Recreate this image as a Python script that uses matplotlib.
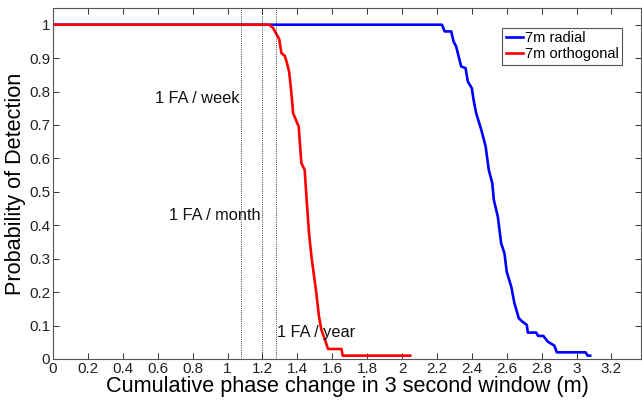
import numpy as np
import matplotlib.pyplot as plt

plt.rcParams['font.family'] = ['Liberation Sans', 'DejaVu Sans']

# detection curves (phase change in m, probability of detection)
radial_x = [0.0, 2.229, 2.244, 2.282, 2.295, 2.31, 2.339, 2.364, 2.377, 2.40, 2.41,
            2.425, 2.454, 2.479, 2.497, 2.517, 2.526, 2.549, 2.568, 2.587, 2.60,
            2.626, 2.644, 2.669, 2.689, 2.715, 2.721, 2.769, 2.78, 2.81, 2.835,
            2.873, 2.887, 3.051, 3.064, 3.078]
radial_y = [1.0, 1.0, 0.98, 0.98, 0.95, 0.935, 0.875, 0.87, 0.83, 0.81, 0.775,
            0.735, 0.686, 0.636, 0.566, 0.526, 0.476, 0.426, 0.346, 0.316, 0.261,
            0.216, 0.167, 0.122, 0.112, 0.102, 0.079, 0.079, 0.069, 0.069, 0.052,
            0.04, 0.02, 0.02, 0.01, 0.01]

orth_x = [0.0, 1.24, 1.261, 1.296, 1.309, 1.328, 1.338, 1.353, 1.366, 1.376, 1.408,
          1.423, 1.442, 1.456, 1.467, 1.481, 1.509, 1.524, 1.538, 1.56, 1.576,
          1.653, 1.66, 2.047]
orth_y = [1.0, 1.0, 0.99, 0.957, 0.915, 0.907, 0.89, 0.86, 0.795, 0.735, 0.695,
          0.586, 0.566, 0.456, 0.376, 0.306, 0.197, 0.127, 0.087, 0.055, 0.03,
          0.03, 0.01, 0.01]

# false-alarm thresholds
fa_x = [1.08, 1.2, 1.28]
fa_labels = ['1 FA / week', '1 FA / month', '1 FA / year']
fa_text_pos = [(1.07, 0.78, 'right'), (1.19, 0.43, 'right'), (1.285, 0.08, 'left')]

fig = plt.figure(figsize=(6.42, 4.0), dpi=100)
ax = fig.add_axes([0.0826, 0.1025, 0.916, 0.8775])

ax.plot(radial_x, radial_y, color='#0000ff', lw=1.9, label='7m radial')
ax.plot(orth_x, orth_y, color='#ff0000', lw=1.9, label='7m orthogonal')

for xv in fa_x:
    ax.axvline(xv, color='black', ls=':', lw=0.6)
for (tx, ty, ha), lab in zip(fa_text_pos, fa_labels):
    ax.text(tx, ty, lab, ha=ha, va='center', fontsize=11.8, color='#111111')

ax.set_xlim(0, 3.37)
ax.set_ylim(0, 1.05)
ax.set_xticks(np.arange(0, 3.21, 0.2))
ax.set_xticklabels(['0', '0.2', '0.4', '0.6', '0.8', '1', '1.2', '1.4', '1.6', '1.8',
                    '2', '2.2', '2.4', '2.6', '2.8', '3', '3.2'])
ax.set_yticks(np.arange(0, 1.01, 0.1))
ax.set_yticklabels(['0', '0.1', '0.2', '0.3', '0.4', '0.5', '0.6', '0.7', '0.8',
                    '0.9', '1'])
ax.tick_params(direction='in', top=True, right=True, length=4, width=0.7,
               labelsize=11, colors='#333333', labelcolor='#222222', pad=2)
for sp in ax.spines.values():
    sp.set_color('#555555')
    sp.set_linewidth(0.8)

ax.set_xlabel('Cumulative phase change in 3 second window (m)', fontsize=15.6, labelpad=0)
ax.set_ylabel('Probability of Detection', fontsize=15.6, labelpad=2)

leg = ax.legend(loc='upper right', bbox_to_anchor=(0.968, 0.944), fontsize=10.5,
                fancybox=False, framealpha=1, edgecolor='#555555',
                handlelength=1.2, handletextpad=0.1, borderpad=0.25, labelspacing=0.15,
                borderaxespad=0)
leg.get_frame().set_linewidth(0.8)

fig.savefig('out.png', dpi=100)
